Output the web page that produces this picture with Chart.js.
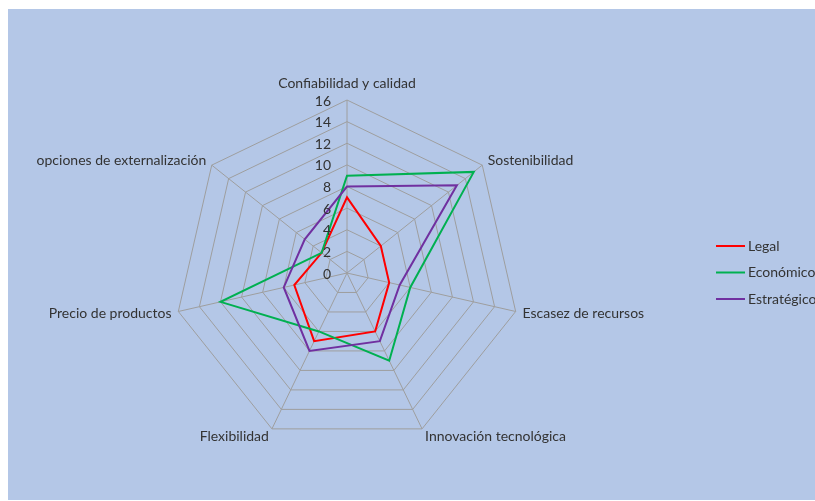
<!DOCTYPE html>
<html>
<head>
<meta charset="utf-8">
<script src="https://cdn.jsdelivr.net/npm/chart.js@4/dist/chart.umd.min.js"></script>
<style>
  html, body { margin: 0; padding: 0; background: #ffffff; }
  #panel { position: absolute; left: 8px; top: 9px; width: 807px; height: 491px; background: #b4c7e7; }
  #wrap { position: absolute; left: 0; top: 0; width: 815px; height: 501px; }
</style>
</head>
<body>
<div id="panel"></div>
<div id="wrap"><canvas id="radar" width="815" height="501"></canvas></div>
<script>
const categories = [
  'Confiabilidad y calidad',
  'Sostenibilidad',
  'Escasez de recursos',
  'Innovación tecnológica',
  'Flexibilidad',
  'Precio de productos',
  'opciones de externalización'
];
const legalValues       = [7, 4, 4, 6, 7, 5, 3];
const economicoValues   = [9, 15, 6, 9, 6, 12, 3];
const estrategicoValues = [8, 13, 5, 7, 8, 6, 5];
const tickValues = [0, 2, 4, 6, 8, 10, 12, 14, 16];

const FONT = 'Lato, "Open Sans", sans-serif';
const TEXT_COLOR = '#333333';
const GRID_COLOR = '#9e9e9e';

// Radial scale with a fixed centre and radius inside the canvas
const CENTER_X = 347, CENTER_Y = 273, RADIUS = 173;
class FixedRadialScale extends Chart.RadialLinearScale {
  setCenterPoint() {
    this.xCenter = CENTER_X;
    this.yCenter = CENTER_Y;
    this.drawingArea = RADIUS;
  }
}
FixedRadialScale.id = 'fixedRadial';
FixedRadialScale.defaults = Chart.RadialLinearScale.defaults;
Chart.register(FixedRadialScale);

// Category names around the web, tick numbers left of the vertical axis, and the legend
const labelsPlugin = {
  id: 'webLabels',
  afterDraw(chart) {
    const ctx = chart.ctx;
    const scale = chart.scales.r;
    ctx.save();
    ctx.font = '14px ' + FONT;
    ctx.fillStyle = TEXT_COLOR;
    ctx.textBaseline = 'middle';

    const n = chart.data.labels.length;
    const top = scale.max;
    chart.data.labels.forEach((label, i) => {
      const pos = scale.getPointPositionForValue(i, top);
      const a = i * 2 * Math.PI / n;
      const s = Math.sin(a), c = Math.cos(a);
      let x = pos.x, y;
      if (Math.abs(s) < 0.01) {
        ctx.textAlign = 'center';
        y = pos.y - 17;
      } else {
        ctx.textAlign = s > 0 ? 'left' : 'right';
        x = pos.x + 7 * s;
        y = pos.y + 0.3 - 8.5 * c;
      }
      ctx.fillText(label, x, y);
    });

    ctx.textAlign = 'right';
    scale.ticks.forEach(t => {
      const d = scale.getDistanceFromCenterForValue(t.value);
      ctx.fillText(String(t.value), scale.xCenter - 16, scale.yCenter - d + 1);
    });

    // legend
    const lx = 716, ly = 246, gap = 26.5;
    chart.data.datasets.forEach((ds, i) => {
      const y = ly + i * gap;
      ctx.strokeStyle = ds.borderColor;
      ctx.lineWidth = 2;
      ctx.beginPath();
      ctx.moveTo(lx, y);
      ctx.lineTo(lx + 29, y);
      ctx.stroke();
      ctx.textAlign = 'left';
      ctx.fillStyle = TEXT_COLOR;
      ctx.fillText(ds.label, lx + 32, y);
    });
    ctx.restore();
  }
};

new Chart(document.getElementById('radar'), {
  type: 'radar',
  data: {
    labels: categories,
    datasets: [
      { label: 'Legal', data: legalValues, borderColor: '#ff0000', order: 3 },
      { label: 'Económico', data: economicoValues, borderColor: '#00b050', order: 2 },
      { label: 'Estratégico', data: estrategicoValues, borderColor: '#7030a0', order: 1 }
    ]
  },
  options: {
    responsive: false,
    devicePixelRatio: 1,
    animation: false,
    events: [],
    elements: {
      line: { borderWidth: 2, fill: false, tension: 0 },
      point: { radius: 0, hoverRadius: 0 }
    },
    plugins: { legend: { display: false }, tooltip: { enabled: false } },
    scales: {
      r: {
        type: 'fixedRadial',
        min: 0,
        max: 16,
        afterBuildTicks: s => { s.ticks = tickValues.map(v => ({ value: v })); },
        ticks: { display: false },
        grid: { color: GRID_COLOR, lineWidth: 1 },
        angleLines: { color: GRID_COLOR, lineWidth: 1 },
        pointLabels: { display: false }
      }
    }
  },
  plugins: [labelsPlugin]
});
</script>
</body>
</html>
